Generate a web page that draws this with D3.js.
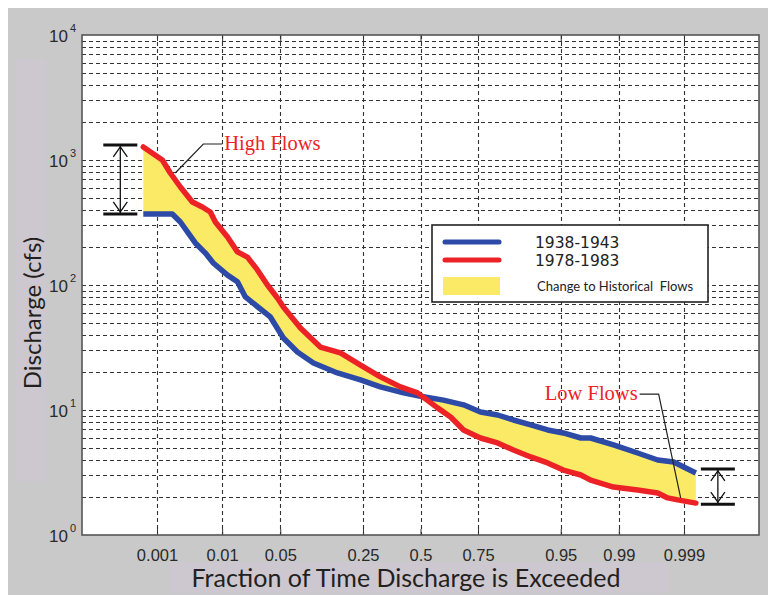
<!DOCTYPE html>
<html>
<head>
<meta charset="utf-8">
<script src="https://cdn.jsdelivr.net/npm/d3@7"></script>
<style>
  html, body { margin: 0; padding: 0; background: #ffffff; }
  svg { display: block; }
</style>
</head>
<body>
<svg id="chart" width="768" height="595"></svg>
<script>
// Flow-duration data: exceedance probability vs. discharge (cfs)
const periods = ["1938-1943", "1978-1983"];
const seriesColors = ["#2c4aa6", "#ec2227"];
const fillLabel = "Change to Historical  Flows";

const earlyExceedance = [0.000575, 0.0018, 0.00243, 0.00413, 0.00582, 0.00755, 0.0118, 0.0159, 0.0200, 0.0391,
  0.0539, 0.0744, 0.1046, 0.165, 0.241, 0.319, 0.421, 0.5, 0.606, 0.693,
  0.759, 0.817, 0.862, 0.902, 0.932, 0.953, 0.970, 0.977, 0.9882, 0.99457,
  0.9973, 0.99851, 0.99899, 0.99938];
const earlyDischarge = [370, 370, 319, 217, 180, 150, 120, 106, 80.2, 55.5,
  37.7, 29.1, 23.8, 19.8, 17.4, 15.3, 13.7, 12.9, 12.0, 11.0,
  9.64, 9.12, 8.32, 7.59, 6.92, 6.55, 5.97, 5.97, 5.25, 4.53,
  3.98, 3.84, 3.50, 3.13];

const lateExceedance = [0.000575, 0.00123, 0.00167, 0.00243, 0.00373, 0.00525, 0.00685, 0.00806, 0.0118, 0.0159,
  0.0212, 0.0279, 0.0363, 0.0467, 0.0539, 0.0796, 0.120, 0.174, 0.241, 0.319,
  0.407, 0.486, 0.579, 0.638, 0.693, 0.759, 0.817, 0.862, 0.902, 0.932,
  0.953, 0.970, 0.977, 0.9882, 0.99457, 0.9973, 0.99813, 0.99872, 0.99938];
const lateDischarge = [1270, 1000, 787, 608, 461, 421, 384, 319, 242, 184,
  167, 132, 100, 78.7, 66.7, 45.3, 31.9, 28.6, 22.9, 18.4,
  15.3, 13.7, 10.4, 8.79, 6.92, 5.97, 5.45, 4.79, 4.21, 3.77,
  3.31, 3.02, 2.75, 2.42, 2.29, 2.17, 1.98, 1.91, 1.80];

const xTickValues = [0.001, 0.01, 0.05, 0.25, 0.5, 0.75, 0.95, 0.99, 0.999];
const xTickLabels = ["0.001", "0.01", "0.05", "0.25", "0.5", "0.75", "0.95", "0.99", "0.999"];
const yDecades = [0, 1, 2, 3, 4];

// Annotation leaders, in data units: [exceedance, discharge]
const highNote = { text: "High Flows", end: [0.00201, 787], elbow: [0.00543, 1343] };
const lowNote = { text: "Low Flows", end: [0.99886, 1.98], elbow: [0.99739, 13.4] };

// Inverse standard normal CDF (Acklam's rational approximation)
function probit(p) {
  const a = [-3.969683028665376e+01, 2.209460984245205e+02, -2.759285104469687e+02, 1.383577518672690e+02, -3.066479806614716e+01, 2.506628277459239e+00];
  const b = [-5.447609879822406e+01, 1.615858368580409e+02, -1.556989798598866e+02, 6.680131188771972e+01, -1.328068155288572e+01];
  const c = [-7.784894002430293e-03, -3.223964580411365e-01, -2.400758277161838e+00, -2.549671180239633e+00, 4.374664141464968e+00, 2.938163982698783e+00];
  const d = [7.784695709041462e-03, 3.224671290700398e-01, 2.445134137142996e+00, 3.754408661907416e+00];
  const pl = 0.02425, ph = 1 - pl;
  let q, r;
  if (p < pl) {
    q = Math.sqrt(-2 * Math.log(p));
    return (((((c[0]*q+c[1])*q+c[2])*q+c[3])*q+c[4])*q+c[5]) / ((((d[0]*q+d[1])*q+d[2])*q+d[3])*q+1);
  }
  if (p > ph) {
    q = Math.sqrt(-2 * Math.log(1 - p));
    return -(((((c[0]*q+c[1])*q+c[2])*q+c[3])*q+c[4])*q+c[5]) / ((((d[0]*q+d[1])*q+d[2])*q+d[3])*q+1);
  }
  q = p - 0.5; r = q * q;
  return (((((a[0]*r+a[1])*r+a[2])*r+a[3])*r+a[4])*r+a[5])*q / (((((b[0]*r+b[1])*r+b[2])*r+b[3])*r+b[4])*r+1);
}

const svg = d3.select("#chart");
const W = 768, H = 595;
const plot = { left: 82, right: 759, top: 35, bottom: 535 };

// Grey page panel and label backdrops
svg.append("rect").attr("x", 8).attr("y", 8).attr("width", W - 8).attr("height", H - 8).attr("fill", "#c9c9c9");
svg.append("rect").attr("x", 16).attr("y", 59).attr("width", 30).attr("height", 422).attr("fill", "#cdc7cf");
svg.append("rect").attr("x", 169).attr("y", 562).attr("width", 499).attr("height", 31).attr("fill", "#cdc7cf");

// Scales: normal-probability x, log y
const zScale = d3.scaleLinear().domain([-3.97, 3.97]).range([plot.left, plot.right]);
const x = p => zScale(probit(p));
const y = d3.scaleLog().domain([1, 1e4]).range([plot.bottom, plot.top]);

svg.append("rect")
  .attr("x", plot.left).attr("y", plot.top)
  .attr("width", plot.right - plot.left).attr("height", plot.bottom - plot.top)
  .attr("fill", "#ffffff");

// Grid
const gridG = svg.append("g").attr("stroke", "#333").attr("stroke-width", 1.1).attr("stroke-dasharray", "4,3");
gridG.selectAll("line.h").data(y.ticks().filter(v => v > 1 && v < 1e4)).join("line")
  .attr("class", "h")
  .attr("x1", plot.left).attr("x2", plot.right)
  .attr("y1", d => Math.round(y(d)) + 0.5).attr("y2", d => Math.round(y(d)) + 0.5);
gridG.selectAll("line.v").data(xTickValues).join("line")
  .attr("class", "v")
  .attr("y1", plot.top).attr("y2", plot.bottom)
  .attr("x1", d => Math.round(x(d)) + 0.5).attr("x2", d => Math.round(x(d)) + 0.5);

// Bottom axis on the probit scale
const xAxis = d3.axisBottom(zScale)
  .tickValues(xTickValues.map(probit))
  .tickFormat((d, i) => xTickLabels[i])
  .tickSize(-6).tickPadding(14);
const xg = svg.append("g").attr("transform", `translate(0,${plot.bottom})`).call(xAxis);
xg.select(".domain").remove();
xg.selectAll(".tick line").attr("stroke", "#333");
xg.selectAll(".tick text").attr("font-family", "Liberation Sans, Arial, sans-serif")
  .attr("font-size", 16.5).attr("fill", "#2a2a2a");

// Top ticks
const xTop = d3.axisTop(zScale).tickValues(xTickValues.map(probit)).tickFormat("").tickSize(-6);
const xtg = svg.append("g").attr("transform", `translate(0,${plot.top})`).call(xTop);
xtg.select(".domain").remove();
xtg.selectAll(".tick line").attr("stroke", "#333");

// Left axis: powers of ten with superscript exponents
const yAxis = d3.axisLeft(y).tickValues(yDecades.map(k => Math.pow(10, k))).tickFormat("").tickSize(0);
const yg = svg.append("g").attr("transform", `translate(${plot.left},0)`).call(yAxis);
yg.select(".domain").remove();
yg.selectAll(".tick").each(function (d, i) {
  const t = d3.select(this).append("text")
    .attr("x", -6).attr("y", 6)
    .attr("text-anchor", "end")
    .attr("font-family", "Liberation Sans, Arial, sans-serif")
    .attr("fill", "#2a2a2a");
  t.append("tspan").attr("font-size", 17).text("10");
  t.append("tspan").attr("font-size", 11).attr("dx", 2).attr("dy", -10).text(String(yDecades[i]));
});

// Plot frame
svg.append("rect")
  .attr("x", plot.left).attr("y", plot.top)
  .attr("width", plot.right - plot.left).attr("height", plot.bottom - plot.top)
  .attr("fill", "none").attr("stroke", "#555").attr("stroke-width", 1.6);

// Series
const early = earlyExceedance.map((p, i) => [p, earlyDischarge[i]]);
const late = lateExceedance.map((p, i) => [p, lateDischarge[i]]);
const line = d3.line().x(d => x(d[0])).y(d => y(d[1]));

// Band between the two periods
svg.append("path")
  .attr("d", line(late.concat(early.slice().reverse())) + "Z")
  .attr("fill", "#fbea66").attr("stroke", "none");

svg.append("path").attr("d", line(early))
  .attr("fill", "none").attr("stroke", seriesColors[0]).attr("stroke-width", 5.5)
  .attr("stroke-linejoin", "round");
svg.append("path").attr("d", line(late))
  .attr("fill", "none").attr("stroke", seriesColors[1]).attr("stroke-width", 5.5)
  .attr("stroke-linejoin", "round").attr("stroke-linecap", "round");

// Double-headed range markers at the ends of the curves
function rangeMarker(cx, v1, v2) {
  const g = svg.append("g").attr("stroke", "#111");
  const y1 = y(v1), y2 = y(v2);
  const top = Math.min(y1, y2), bot = Math.max(y1, y2);
  g.append("line").attr("x1", cx - 17).attr("x2", cx + 17).attr("y1", top).attr("y2", top).attr("stroke-width", 3);
  g.append("line").attr("x1", cx - 17).attr("x2", cx + 17).attr("y1", bot).attr("y2", bot).attr("stroke-width", 3);
  g.append("line").attr("x1", cx).attr("x2", cx).attr("y1", top + 1).attr("y2", bot - 1).attr("stroke-width", 1.3);
  g.append("path").attr("fill", "none").attr("stroke-width", 1.3)
    .attr("d", `M${cx - 7},${top + 12}L${cx},${top + 2}L${cx + 7},${top + 12}M${cx - 7},${bot - 12}L${cx},${bot - 2}L${cx + 7},${bot - 12}`);
}
rangeMarker(x(lateExceedance[0]) - 23, lateDischarge[0] * 1.04, earlyDischarge[0]);
rangeMarker(x(lateExceedance[lateExceedance.length - 1]) + 22,
  earlyDischarge[earlyDischarge.length - 1] * 1.08, lateDischarge[lateDischarge.length - 1] * 0.98);

// Callouts
function callout(note, side) {
  const ex = x(note.end[0]), ey = y(note.end[1]);
  const kx = x(note.elbow[0]), ky = y(note.elbow[1]);
  const lx = kx + side * 19;
  svg.append("path")
    .attr("d", `M${ex},${ey}L${kx},${ky}L${lx},${ky}`)
    .attr("fill", "none").attr("stroke", "#222").attr("stroke-width", 1.2);
  svg.append("text")
    .attr("x", lx + side * 2).attr("y", ky + 6)
    .attr("text-anchor", side > 0 ? "start" : "end")
    .attr("font-family", "Liberation Serif, Times New Roman, serif")
    .attr("font-size", 20.5).attr("fill", "#ec2227")
    .text(note.text);
}
callout(highNote, 1);
callout(lowNote, -1);

// Legend
const lg = svg.append("g");
lg.append("rect").attr("x", 432).attr("y", 225).attr("width", 276).attr("height", 77)
  .attr("fill", "#ffffff").attr("stroke", "#222").attr("stroke-width", 1.6);
periods.forEach((name, i) => {
  const ly = 242 + i * 18;
  lg.append("line").attr("x1", 445).attr("x2", 499).attr("y1", ly).attr("y2", ly)
    .attr("stroke", seriesColors[i]).attr("stroke-width", 5).attr("stroke-linecap", "round");
  lg.append("text").attr("x", 535).attr("y", ly + 6)
    .attr("font-family", "DejaVu Sans, Arial, sans-serif").attr("font-size", 15.5)
    .attr("fill", "#222").text(name);
});
lg.append("rect").attr("x", 443).attr("y", 277).attr("width", 57).attr("height", 18).attr("fill", "#fbea66");
lg.append("text").attr("x", 537).attr("y", 291)
  .attr("font-family", "Lato, Noto Sans, sans-serif").attr("font-size", 13)
  .attr("fill", "#222").attr("xml:space", "preserve").text(fillLabel);

// Axis titles
svg.append("text")
  .attr("transform", "translate(41,313) rotate(-90)")
  .attr("text-anchor", "middle")
  .attr("font-family", "Lato, Noto Sans, sans-serif").attr("font-size", 24)
  .attr("fill", "#231f20").text("Discharge (cfs)");
svg.append("text")
  .attr("x", 406).attr("y", 587)
  .attr("text-anchor", "middle")
  .attr("font-family", "Lato, Noto Sans, sans-serif").attr("font-size", 25)
  .attr("fill", "#231f20").text("Fraction of Time Discharge is Exceeded");
</script>
</body>
</html>
